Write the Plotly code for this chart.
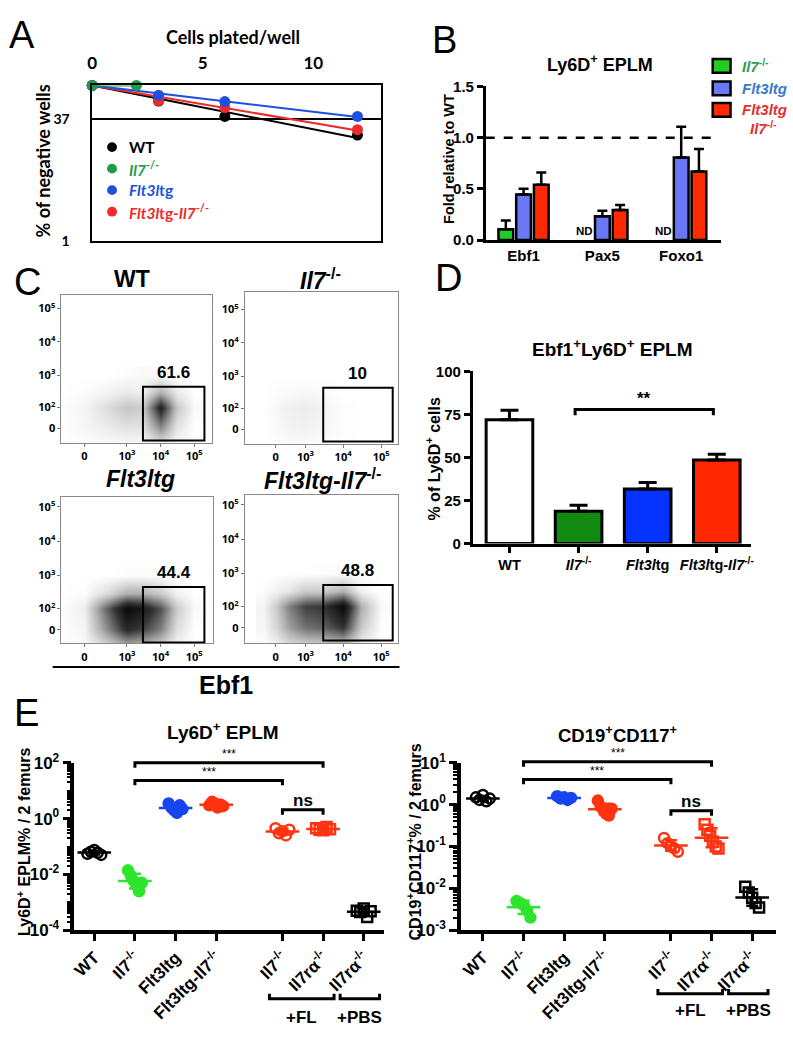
import numpy as np
import plotly.graph_objects as go

W, H = 793, 1043
ARIAL = "Liberation Sans, Arial, Helvetica, sans-serif"
CALI = "Lato, sans-serif"
SMALL = "Open Sans, DejaVu Sans, sans-serif"

# ---------------- Panel A : limiting dilution ----------------
A_cells_wt = [0, 3, 6, 12]
A_neg_wt = [100, 63, 40, 23]
A_cells_il7 = [0, 2]
A_neg_il7 = [100, 100]
A_cells_flt = [0, 3, 6, 12]
A_neg_flt = [100, 75, 62, 40]
A_cells_dko = [0, 3, 6, 12]
A_neg_dko = [100, 64, 52, 27]
A_xticks = [0, 5, 10]
A_yticks = [1, 37]

# ---------------- Panel B : qPCR ----------------
B_genes = ["Ebf1", "Pax5", "Foxo1"]
B_il7 = [0.105, None, None]
B_il7_err = [0.085, 0, 0]
B_flt = [0.446, 0.232, 0.806]
B_flt_err = [0.055, 0.055, 0.30]
B_dko = [0.54, 0.293, 0.669]
B_dko_err = [0.12, 0.05, 0.22]
B_yticks = [0.0, 0.5, 1.0, 1.5]

# ---------------- Panel C : flow density ----------------
C_x_bins = [-300, 0, 300, 1000, 3000, 10000, 30000, 100000]
C_y_bins = [-100, 0, 100, 300, 1000]
C_wt = [
    [0, 0, 0, 0, 0, 0.02, 0, 0],
    [0, 0.03, 0.07, 0.10, 0.10, 0.40, 0.10, 0],
    [0, 0.04, 0.14, 0.22, 0.18, 0.80, 0.22, 0.02],
    [0, 0.01, 0.05, 0.08, 0.06, 0.30, 0.08, 0],
    [0, 0, 0, 0.01, 0.02, 0.02, 0, 0],
]
C_il7 = [
    [0, 0, 0, 0, 0, 0, 0, 0],
    [0, 0.02, 0.04, 0.05, 0.03, 0.01, 0, 0],
    [0, 0.03, 0.06, 0.07, 0.04, 0.01, 0, 0],
    [0, 0.01, 0.02, 0.03, 0.02, 0, 0, 0],
    [0, 0, 0, 0, 0, 0, 0, 0],
]
C_flt = [
    [0, 0.01, 0.08, 0.15, 0.15, 0.08, 0.01, 0],
    [0, 0.04, 0.45, 0.75, 0.65, 0.45, 0.12, 0],
    [0, 0.06, 0.60, 0.95, 0.85, 0.60, 0.20, 0.02],
    [0, 0.01, 0.15, 0.30, 0.30, 0.20, 0.05, 0],
    [0, 0, 0, 0.01, 0.01, 0.01, 0, 0],
]
C_dko = [
    [0, 0.03, 0.08, 0.10, 0.10, 0.12, 0.03, 0],
    [0.03, 0.15, 0.35, 0.50, 0.55, 0.70, 0.20, 0],
    [0.04, 0.20, 0.45, 0.65, 0.70, 0.95, 0.30, 0.02],
    [0.01, 0.05, 0.10, 0.20, 0.20, 0.30, 0.05, 0],
    [0, 0, 0, 0, 0.01, 0.01, 0, 0],
]
C_pct = ["61.6", "10", "44.4", "48.8"]
C_gate_x = [3000, 200000]
C_gate_y = [-50, 450]
C_xticks = [0, 1e3, 1e4, 1e5]
C_xticktext = ["0", "10<sup>3</sup>", "10<sup>4</sup>", "10<sup>5</sup>"]
C_yticks = [0, 1e2, 1e3, 1e4, 1e5]
C_yticktext = ["0", "10<sup>2</sup>", "10<sup>3</sup>", "10<sup>4</sup>", "10<sup>5</sup>"]

# ---------------- Panel D ----------------
D_groups = ["WT", "<i>Il7</i><sup>-/-</sup>", "<i>Flt3l</i>tg", "<i>Flt3l</i>tg-<i>Il7</i><sup>-/-</sup>"]
D_vals = [71.8, 18.8, 31.6, 48.5]
D_err = [5.5, 3.4, 3.8, 3.4]
D_yticks = [0, 25, 50, 75, 100]

# ---------------- Panel E ----------------
E_labels = ["WT", "Il7<sup>-/-</sup>", "Flt3ltg", "Flt3ltg-Il7<sup>-/-</sup>",
            "Il7<sup>-/-</sup>", "Il7rα<sup>-/-</sup>", "Il7rα<sup>-/-</sup>"]
E_pos = [0, 1, 2, 3, 4.63, 5.63, 6.63]
E1_wt = [0.055, 0.065, 0.075, 0.06, 0.05]
E1_il7 = [0.014, 0.009, 0.006, 0.004, 0.0025, 0.005]
E1_flt = [3.5, 2.5, 2.0, 1.6, 3.0, 2.2]
E1_dko = [3.0, 4.0, 3.5, 2.5, 3.2, 2.8]
E1_il7fl = [0.45, 0.3, 0.35, 0.25, 0.4]
E1_il7rafl = [0.45, 0.4, 0.38, 0.5, 0.42]
E1_pbs = [0.0005, 0.00045, 0.0006, 0.0003, 0.00048]
E2_wt = [1.5, 1.3, 1.7, 1.2, 1.4]
E2_il7 = [0.005, 0.0045, 0.004, 0.003, 0.002]
E2_flt = [1.6, 1.4, 1.5, 1.3, 1.45]
E2_dko = [1.25, 0.9, 0.75, 0.6, 0.55, 0.8]
E2_il7fl = [0.16, 0.12, 0.1, 0.09, 0.075]
E2_il7rafl = [0.34, 0.25, 0.18, 0.13, 0.1, 0.09]
E2_pbs = [0.011, 0.008, 0.006, 0.0045, 0.0035]

# ================= helpers =================
def X(px): return px / W
def Y(py): return 1 - py / H
def xdom(a, b): return [a / W, b / W]
def ydom(t, b): return [1 - b / H, 1 - t / H]

fig = go.Figure()
ann, shp = [], []

def txt(x, y, s, size, color="black", family=ARIAL, bold=True, angle=0, xa="center", ya="middle"):
    ann.append(dict(x=X(x), y=Y(y), xref="paper", yref="paper", text=s, showarrow=False,
                    font=dict(family=family, size=size, color=color,
                              weight="bold" if bold else "normal"),
                    textangle=angle, xanchor=xa, yanchor=ya))

def seg(pts, width=2.5, color="black", dash=None):
    path = "M " + " L ".join(f"{X(a):.5f},{Y(b):.5f}" for a, b in pts)
    line = dict(color=color, width=width)
    if dash:
        line["dash"] = dash
    shp.append(dict(type="path", path=path, xref="paper", yref="paper", line=line))

def lt(v, w):
    return np.arcsinh(np.asarray(v, float) / w) / np.log(10)

# panel letters
for L, (lx, ly) in {"A": (17, 24), "B": (443, 29), "C": (23, 276), "D": (447, 272), "E": (22, 716)}.items():
    txt(lx, ly, L, 38, bold=False)

# ================= Panel A =================
GREEN_A, BLUE_A, RED_A = "#1f9b4a", "#2050e0", "#ee2a2a"
seriesA = [("wt", A_cells_wt, A_neg_wt, "#000000"),
           ("dko", A_cells_dko, A_neg_dko, RED_A),
           ("flt", A_cells_flt, A_neg_flt, BLUE_A),
           ("il7", A_cells_il7, A_neg_il7, GREEN_A)]
for key, xs, ys, col in seriesA:
    xs = np.array(xs, float); ys = np.array(ys, float)
    if key == "il7":
        lx, ly = xs, ys
    else:
        d = np.log10(ys / 100.0)
        k = -(xs * d).sum() / (xs * xs).sum()
        lx = np.array([0.0, xs.max()]); ly = 100 * 10 ** (-k * lx)
    fig.add_trace(go.Scatter(x=lx, y=ly, mode="lines", line=dict(color=col, width=2),
                             xaxis="x", yaxis="y", cliponaxis=False, hoverinfo="skip"))
    fig.add_trace(go.Scatter(x=xs, y=ys, mode="markers", marker=dict(color=col, size=11),
                             xaxis="x", yaxis="y", cliponaxis=False, hoverinfo="skip"))

legA = [("WT", "#000000"), ("<i>Il7</i><sup>-/-</sup>", GREEN_A),
        ("<i>Flt3l</i>tg", BLUE_A), ("<i>Flt3l</i>tg-<i>Il7</i><sup>-/-</sup>", RED_A)]
for i, (s, c) in enumerate(legA):
    yy = 138 + 22 * i
    shp.append(dict(type="circle", xref="paper", yref="paper", x0=X(103), x1=X(113),
                    y0=Y(yy + 5), y1=Y(yy - 5), fillcolor=c, line=dict(width=0)))
    txt(123, yy, s, 15.5, color=c, family=CALI, xa="left")
txt(230, 26, "Cells plated/well", 18, family=CALI)
txt(38, 152, "% of negative wells", 18, family=CALI, angle=-90)

# ================= Panel B =================
B_cols = ["#22cc22", "#6a78f5", "#ff2a00"]
for k, (vals, err) in enumerate([(B_il7, B_il7_err), (B_flt, B_flt_err), (B_dko, B_dko_err)]):
    xpos = np.arange(len(B_genes)) + (k - 1) * 0.225
    fig.add_trace(go.Bar(x=xpos, y=vals, width=0.187, xaxis="x2", yaxis="y2",
                         marker=dict(color=B_cols[k], line=dict(color="black", width=2.5)),
                         error_y=dict(type="data", array=err, arrayminus=[0] * len(err),
                                      symmetric=False, color="black", thickness=2.5, width=5),
                         hoverinfo="skip"))
for i, v in enumerate(B_il7):
    if v is None:
        ann.append(dict(x=i - 0.225, y=0, xref="x2", yref="y2", text="ND", showarrow=False,
                        yanchor="bottom", yshift=1,
                        font=dict(family=ARIAL, size=11.5, color="black", weight="bold")))
shp.append(dict(type="line", xref="x2", yref="y2", x0=-0.48, x1=2.44, y0=1, y1=1,
                line=dict(color="black", width=2.5, dash="dash")))
txt(600, 53, "Ly6D<sup>+</sup> EPLM", 18)
txt(448, 150, "Fold relative to WT", 14.5, angle=-90)
legB = [("<i>Il7</i><sup>-/-</sup>", "#2e9e4e", B_cols[0], 55),
        ("<i>Flt3ltg</i>", "#3a7ac8", B_cols[1], 78),
        ("<i>Flt3ltg</i>", "#e53030", B_cols[2], 100)]
for s, tc, fc, yy in legB:
    shp.append(dict(type="rect", xref="paper", yref="paper", x0=X(714), x1=X(732),
                    y0=Y(yy + 7), y1=Y(yy - 7), fillcolor=fc, line=dict(color="black", width=2.5)))
    txt(742, yy, s, 15, color=tc, xa="left")
txt(765, 118, "<i>Il7</i><sup>-/-</sup>", 15, color="#e53030")

# ================= Panel C =================
flows = [
    (C_wt, 110, (57, 209), (289, 440), [-0.68, 3.79], [-0.44, 4.0], "WT", (128, 273)),
    (C_il7, 342, (242, 397), (286, 441), [-0.81, 3.22], [-0.44, 4.12], "<i>Il7</i><sup>-/-</sup>", (318, 273)),
    (C_flt, 110, (57, 210), (495, 645), [-0.68, 3.82], [-0.40, 3.89], "<i>Flt3ltg</i>", (137, 477)),
    (C_dko, 342, (242, 397), (493, 645), [-0.81, 3.22], [-0.46, 3.89], "<i>Flt3ltg</i>-<i>Il7</i><sup>-/-</sup>", (320, 477)),
]
YW = 51.4
flow_axes = {}
for i, (z, wx, (xa0, xa1), (yt, yb), xr, yr, title, (tx, ty)) in enumerate(flows):
    n = i + 3
    xa, ya = f"x{n}", f"y{n}"
    fig.add_trace(go.Heatmap(x=lt(C_x_bins, wx), y=lt(C_y_bins, YW), z=z, zsmooth="best",
                             colorscale=[[0, "#ffffff"], [0.3, "#b0b0b0"], [0.7, "#333333"], [1, "#000000"]],
                             zmin=0, zmax=1,
                             showscale=False, hoverinfo="skip", xaxis=xa, yaxis=ya))
    common = dict(showline=True, mirror=True, linecolor="#8a8a8a", linewidth=1, showgrid=False,
                  zeroline=False, ticks="outside", ticklen=3, tickcolor="#777", tickwidth=1,
                  tickfont=dict(family=SMALL, size=11, color="black", weight="bold"))
    flow_axes[f"xaxis{n}"] = dict(domain=xdom(xa0, xa1), anchor=ya, range=xr, tickmode="array",
                                  tickvals=lt(C_xticks, wx), ticktext=C_xticktext, **common)
    flow_axes[f"yaxis{n}"] = dict(domain=ydom(yt, yb), anchor=xa, range=yr, tickmode="array",
                                  tickvals=lt(C_yticks, YW), ticktext=C_yticktext, **common)
    gx = lt(C_gate_x, wx); gy = lt(C_gate_y, YW)
    shp.append(dict(type="rect", xref=xa, yref=ya, x0=gx[0], x1=gx[1], y0=gy[0], y1=gy[1],
                    line=dict(color="black", width=2)))
    ann.append(dict(x=(gx[0] + gx[1]) / 2, y=gy[1], xref=xa, yref=ya, text=C_pct[i],
                    showarrow=False, yanchor="bottom", yshift=3,
                    font=dict(family=ARIAL, size=17, color="black", weight="bold")))
    txt(tx, ty, title, 23)
seg([(48, 669), (398, 669)], width=2)
txt(223, 687, "Ebf1", 25)

# ================= Panel D =================
D_cols = ["#ffffff", "#128a12", "#0433ff", "#ff2600"]
fig.add_trace(go.Bar(x=list(range(len(D_vals))), y=D_vals, width=0.675, xaxis="x7", yaxis="y7",
                     marker=dict(color=D_cols, line=dict(color="black", width=3)),
                     error_y=dict(type="data", array=D_err, arrayminus=[0] * 4, symmetric=False,
                                  color="black", thickness=3, width=9),
                     hoverinfo="skip"))
shp.append(dict(type="path", xref="x7", yref="y7",
                path="M 0.95,74.4 L 0.95,77.8 L 2.95,77.8 L 2.95,74.4",
                line=dict(color="black", width=3)))
ann.append(dict(x=1.95, y=84, xref="x7", yref="y7", text="**", showarrow=False,
                font=dict(family=ARIAL, size=17, color="black", weight="bold")))
txt(613, 343, "Ebf1<sup>+</sup>Ly6D<sup>+</sup> EPLM", 19)
txt(432, 457, "% of Ly6D<sup>+</sup> cells", 16, angle=-90)

# ================= Panel E =================
E_sym = ["circle-open", "circle", "circle", "circle", "circle-open", "square-open", "square-open"]
E_col = ["#000000", "#2ee52e", "#1745f0", "#ff3311", "#ff3311", "#ff3311", "#000000"]
E1 = [E1_wt, E1_il7, E1_flt, E1_dko, E1_il7fl, E1_il7rafl, E1_pbs]
E2 = [E2_wt, E2_il7, E2_flt, E2_dko, E2_il7fl, E2_il7rafl, E2_pbs]
for groups, xa, ya in [(E1, "x8", "y8"), (E2, "x9", "y9")]:
    for g, vals in enumerate(groups):
        v = np.array(vals, float)
        n = len(v)
        off = np.linspace(-0.17, 0.17, n)
        fig.add_trace(go.Scatter(x=E_pos[g] + off, y=v, mode="markers", xaxis=xa, yaxis=ya,
                                 cliponaxis=False, hoverinfo="skip",
                                 marker=dict(symbol=E_sym[g], size=10, color=E_col[g],
                                             line=dict(color=E_col[g], width=2.5))))
        lg = np.log10(v); m = lg.mean(); s = lg.std(ddof=1)
        c = 10 ** m
        fig.add_trace(go.Scatter(x=[E_pos[g]], y=[c], mode="markers", xaxis=xa, yaxis=ya,
                                 cliponaxis=False, hoverinfo="skip",
                                 marker=dict(symbol="line-ew", size=24, color=E_col[g],
                                             line=dict(color=E_col[g], width=2.5)),
                                 error_y=dict(type="data", symmetric=False, array=[10 ** (m + s) - c],
                                              arrayminus=[c - 10 ** (m - s)], color=E_col[g],
                                              thickness=2.5, width=6)))

def epx(panel, v):
    a0, a1, r0, r1 = (70, 382, -0.49, 7.12) if panel == 1 else (460, 778, -0.54, 7.22)
    return a0 + (v - r0) / (r1 - r0) * (a1 - a0)

for panel, ys, fly, fll in [(1, (767, 785, 815), 1008, 1027), (2, (766, 784, 816), 1003, 1020)]:
    a1, a2, a3 = ys
    for (g0, g1, yy, lab, fs, bold) in [(1, 5, a1, "***", 12, False), (1, 4, a2, "***", 12, False),
                                        (4, 5, a3, "ns", 17, True)]:
        x0, x1 = epx(panel, E_pos[g0]), epx(panel, E_pos[g1])
        seg([(x0, yy + 5), (x0, yy), (x1, yy), (x1, yy + 5)], width=3)
        txt((x0 + x1) / 2, yy - 9, lab, fs, bold=bold)
    fl0, fl1 = epx(panel, 4.31), epx(panel, 5.9)
    pb0, pb1 = epx(panel, 6.05), epx(panel, 7.02)
    seg([(fl0, fly - 5), (fl0, fly), (fl1, fly), (fl1, fly - 5)], width=3)
    seg([(pb0, fly - 5), (pb0, fly), (pb1, fly), (pb1, fly - 5)], width=3)
    txt((fl0 + fl1) / 2, fll, "+FL", 17)
    txt((pb0 + pb1) / 2, fll, "+PBS", 17)

txt(220, 735, "Ly6D<sup>+</sup> EPLM", 19)
txt(618, 738, "CD19<sup>+</sup>CD117<sup>+</sup>", 18.5)
txt(19, 848, "Ly6D<sup>+</sup> EPLM% / 2 femurs", 16, angle=-90)
txt(413, 848, "CD19<sup>+</sup>CD117<sup>+</sup>% / 2 femurs", 16, angle=-90)

def minor_vals(lo, hi):
    out = []
    for e in range(lo, hi):
        for mm in range(1, 10):
            out.append(mm * 10.0 ** e)
    return out

bold = lambda s: dict(family=ARIAL, size=s, color="black", weight="bold")
E_x_common = dict(tickmode="array", tickvals=E_pos, ticktext=E_labels, tickangle=-45,
                  tickfont=bold(17), ticks="outside", ticklen=7, tickwidth=3, tickcolor="black",
                  showline=True, linecolor="black", linewidth=3.5, showgrid=False, zeroline=False)
E_y_common = dict(type="log", tickmode="array", ticks="outside", ticklen=8, tickwidth=3,
                  tickcolor="black", showline=True, linecolor="black", linewidth=3.5,
                  showgrid=False, zeroline=False, tickfont=bold(17))

layout_axes = dict(
    xaxis=dict(domain=xdom(88, 379), anchor="y", side="top", range=[0, 13.05], tickmode="array",
               tickvals=A_xticks, tickfont=dict(family=CALI, size=17, color="black", weight="bold"),
               showline=True, mirror=True, linecolor="black", linewidth=1.5, showgrid=False,
               zeroline=False, ticks="", ticklabelstandoff=8),
    yaxis=dict(domain=ydom(75, 234), anchor="x", type="log", range=[0, 2], tickmode="array",
               tickvals=A_yticks, tickfont=dict(family=CALI, size=14, color="black", weight="bold"),
               showline=True, mirror=True, linecolor="black", linewidth=1.5, showgrid=True,
               gridcolor="black", gridwidth=1.5, zeroline=False, ticks="", ticklabelstandoff=18),
    xaxis2=dict(domain=xdom(485, 722), anchor="y2", range=[-0.48, 2.5], tickmode="array",
                tickvals=list(range(3)), ticktext=B_genes, tickfont=bold(15), ticks="",
                showline=True, linecolor="black", linewidth=2.5, showgrid=False, zeroline=False),
    yaxis2=dict(domain=ydom(76, 233), anchor="x2", range=[0, 1.5], tickmode="array",
                tickvals=B_yticks, ticktext=[f"{v:.1f}" for v in B_yticks], tickfont=bold(15),
                ticks="outside", ticklen=6, tickwidth=2.5, tickcolor="black", showline=True,
                linecolor="black", linewidth=2.5, showgrid=False, zeroline=False),
    xaxis7=dict(domain=xdom(472, 753), anchor="y7", range=[-0.53, 3.5], tickmode="array",
                tickvals=list(range(4)), ticktext=D_groups, tickfont=bold(14.5), ticks="outside",
                ticklen=6, tickwidth=3, tickcolor="black", showline=True, linecolor="black",
                linewidth=3, showgrid=False, zeroline=False),
    yaxis7=dict(domain=ydom(367, 543), anchor="x7", range=[0, 100], tickmode="array",
                tickvals=D_yticks, tickfont=bold(15), ticks="outside", ticklen=6, tickwidth=3,
                tickcolor="black", showline=True, linecolor="black", linewidth=3,
                showgrid=False, zeroline=False),
    xaxis8=dict(domain=xdom(70, 382), anchor="y8", range=[-0.49, 7.12], **E_x_common),
    yaxis8=dict(domain=ydom(767, 938), anchor="x8", range=[-4, 2],
                tickvals=[1e-4, 1e-2, 1, 1e2],
                ticktext=["10<sup>-4</sup>", "10<sup>-2</sup>", "10<sup>0</sup>", "10<sup>2</sup>"],
                minor=dict(tickmode="array", tickvals=minor_vals(-4, 2), ticks="outside",
                           ticklen=4, tickwidth=2, tickcolor="black"),
                **E_y_common),
    xaxis9=dict(domain=xdom(460, 778), anchor="y9", range=[-0.54, 7.22], **E_x_common),
    yaxis9=dict(domain=ydom(767, 938), anchor="x9", range=[-3, 1],
                tickvals=[1e-3, 1e-2, 1e-1, 1, 10],
                ticktext=["10<sup>-3</sup>", "10<sup>-2</sup>", "10<sup>-1</sup>", "10<sup>0</sup>", "10<sup>1</sup>"],
                minor=dict(tickmode="array", tickvals=minor_vals(-3, 1), ticks="outside",
                           ticklen=4, tickwidth=2, tickcolor="black"),
                **E_y_common),
)
layout_axes.update(flow_axes)

fig.update_layout(width=W, height=H, margin=dict(l=0, r=0, t=0, b=0),
                  paper_bgcolor="white", plot_bgcolor="white", showlegend=False,
                  barmode="overlay", annotations=ann, shapes=shp,
                  font=dict(family=ARIAL, color="black"), **layout_axes)

fig.write_html("out.html", config={"displayModeBar": False},
               post_script="document.body.style.margin='0';document.body.style.overflow='hidden';")
